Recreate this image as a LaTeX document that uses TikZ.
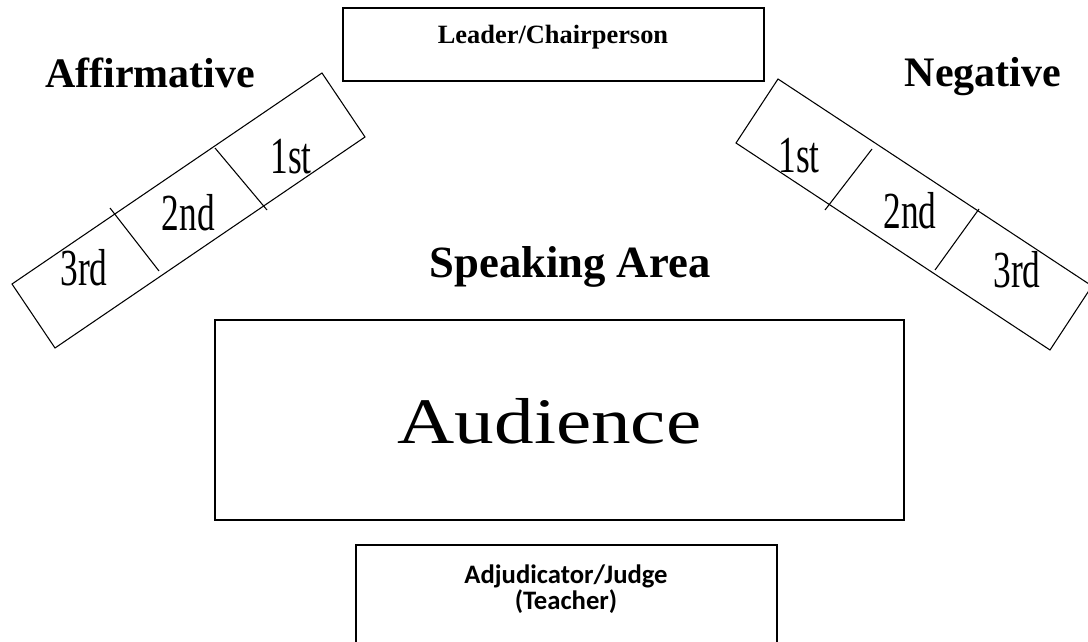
\documentclass[tikz,border=0pt]{standalone}
\usepackage{fontspec}
\setmainfont{Liberation Serif}
\newfontfamily\calib{Carlito}
\begin{document}
\begin{tikzpicture}[x=0.75pt,y=-0.75pt,
  seat/.style={draw=black,line width=0.8pt,line join=miter},
  divider/.style={draw=black,line width=0.8pt},
  box/.style={draw=black,line width=1.2pt},
  bigbox/.style={draw=black,line width=1.6pt},
  seattext/.style={anchor=base,inner sep=0pt,font=\fontsize{39}{39}\selectfont,xscale=0.68},
  sidetitle/.style={anchor=base,inner sep=0pt,font=\bfseries\fontsize{31.5}{36}\selectfont},
  judgetext/.style={anchor=base,inner sep=0pt,font=\calib\bfseries\fontsize{20}{24}\selectfont}]
\useasboundingbox (0,0) rectangle (1088,642);
\clip (0,0) rectangle (1088,642);
% Leader / Chairperson
\coordinate (L1) at (343,8);
\coordinate (L2) at (764,81);
\draw[box] (L1) rectangle (L2);
\node[anchor=base,inner sep=0pt,font=\bfseries\fontsize{19.8}{22}\selectfont] (leader) at (553,44) {Leader/Chairperson};
% side titles
\node[sidetitle] (aff) at (150,88) {Affirmative};
\node[sidetitle] (neg) at (983,87) {Negative};
% Affirmative bench
\coordinate (A1) at (12,284);
\coordinate (A2) at (55,348);
\coordinate (A3) at (365,137);
\coordinate (A4) at (322,73);
\draw[seat] (A1) -- (A2) -- (A3) -- (A4) -- cycle;
\coordinate (ad1a) at (110,208);
\coordinate (ad1b) at (159,271);
\coordinate (ad2a) at (215,148);
\coordinate (ad2b) at (267,210);
\draw[divider] (ad1a) -- (ad1b);
\draw[divider] (ad2a) -- (ad2b);
\node[seattext] (a3) at (84,285) {3rd};
\node[seattext] (a2) at (188.5,230) {2nd};
\node[seattext] (a1) at (291,173) {1st};
% Negative bench
\coordinate (N1) at (778,79);
\coordinate (N2) at (736,143);
\coordinate (N3) at (1050,350);
\coordinate (N4) at (1092,286);
\draw[seat] (N1) -- (N2) -- (N3) -- (N4) -- cycle;
\coordinate (nd1a) at (825,210);
\coordinate (nd1b) at (872,149);
\coordinate (nd2a) at (935,270);
\coordinate (nd2b) at (979,209);
\draw[divider] (nd1a) -- (nd1b);
\draw[divider] (nd2a) -- (nd2b);
\node[seattext] (n1) at (799,172) {1st};
\node[seattext] (n2) at (910,228) {2nd};
\node[seattext] (n3) at (1017,287) {3rd};
% Speaking area
\node[anchor=base,inner sep=0pt,font=\bfseries\fontsize{33.5}{38}\selectfont] (speak) at (570,277) {Speaking Area};
% Audience
\coordinate (U1) at (215,320);
\coordinate (U2) at (904,520);
\draw[bigbox] (U1) rectangle (U2);
\node[anchor=base,inner sep=0pt,font=\fontsize{48.7}{52}\selectfont,xscale=1.22] (aud) at (549.5,443) {Audience};
% Judge
\coordinate (J1) at (356,545);
\coordinate (J2) at (777,700);
\draw[box] (J1) rectangle (J2);
\node[judgetext] (judge1) at (566,583) {Adjudicator/Judge};
\node[judgetext] (judge2) at (566,609) {(Teacher)};
\end{tikzpicture}
\end{document}
